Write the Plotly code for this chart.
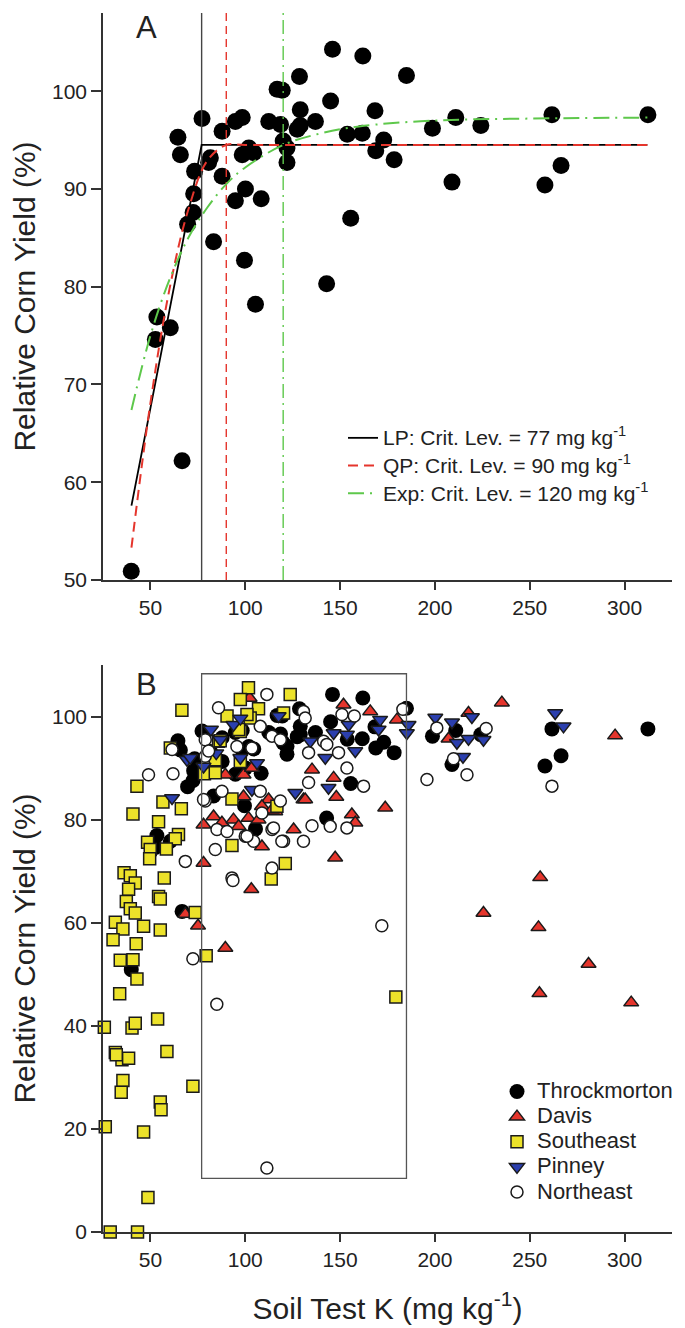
import plotly.graph_objects as go

# ---------------- Panel A data (Throckmorton) ----------------
thr_x = [146.0, 162.0, 185.0, 128.6, 116.8, 119.5, 145.0, 129.0, 168.4, 77.2,
         98.4, 94.8, 112.4, 118.6, 137.0, 129.0, 127.4, 87.8, 64.5, 153.8,
         161.7, 173.0, 120.0, 122.0, 65.8, 101.9, 98.4, 104.5, 168.8, 178.5,
         81.6, 80.7, 122.0, 73.3, 87.8, 100.1, 94.8, 108.4, 72.8, 72.5,
         69.6, 155.6, 83.3, 99.6, 142.9, 105.4, 53.4, 60.5, 52.6, 66.7,
         39.9, 211.0, 198.7, 224.2, 261.7, 312.3, 209.0, 266.5, 258.0]
thr_y = [104.3, 103.6, 101.6, 101.5, 100.2, 100.1, 99.0, 98.1, 98.0, 97.2,
         97.3, 96.9, 96.9, 96.6, 96.9, 96.5, 96.1, 95.9, 95.3, 95.6,
         95.7, 95.0, 94.9, 94.2, 93.5, 94.2, 93.5, 93.7, 93.9, 93.0,
         93.2, 92.7, 92.7, 91.8, 91.3, 90.0, 88.8, 89.0, 89.5, 87.6,
         86.4, 87.0, 84.6, 82.7, 80.3, 78.2, 76.9, 75.8, 74.6, 62.2,
         50.9, 97.3, 96.2, 96.5, 97.6, 97.6, 90.7, 92.4, 90.4]

# fitted model lines
lp_x = [40, 77, 312]
lp_y = [57.6, 94.5, 94.5]
qp_x = [40, 50, 60, 70, 80, 90, 100, 312]
qp_y = [53.3, 68.1, 79.7, 87.9, 92.9, 94.5, 94.5, 94.5]
exp_x = [40, 50, 60, 70, 80, 90, 100, 120, 140, 160, 200, 250, 312]
exp_y = [67.4, 75.0, 80.7, 85.0, 88.1, 90.5, 92.2, 94.5, 95.7, 96.4, 97.0, 97.2, 97.3]
crit_levels = [77, 90, 120]
model_names = ["LP: Crit. Lev. = 77 mg kg<sup>-1</sup>",
               "QP: Crit. Lev. = 90 mg kg<sup>-1</sup>",
               "Exp: Crit. Lev. = 120 mg kg<sup>-1</sup>"]

# ---------------- Panel B data ----------------
dav_x = [102.3, 89.5, 99.1, 103.5, 99.1, 112.3, 108.8, 130.7, 78.0, 83.3,
         87.7, 93.8, 96.5, 101.7, 115.8, 125.5, 78.0, 151.8, 165.9, 180.0,
         135.2, 146.6, 148.0, 131.6, 114.1, 173.8, 156.2, 158.0, 107.0, 108.8,
         147.4, 235.3, 217.7, 207.2, 295.0, 255.5, 225.6, 254.6, 281.0, 255.1,
         303.5, 103.2, 68.4, 75.1, 89.5]
dav_y = [103.6, 88.7, 88.7, 90.0, 84.5, 83.9, 82.6, 83.9, 79.0, 80.6,
         79.4, 80.0, 78.7, 80.3, 81.6, 78.1, 71.6, 102.3, 101.0, 99.4,
         89.7, 88.1, 84.4, 83.9, 81.9, 82.3, 81.0, 79.4, 80.0, 74.8,
         72.6, 102.7, 100.7, 95.7, 96.3, 68.8, 61.9, 59.1, 52.0, 46.3,
         44.5, 66.5, 61.7, 59.4, 55.1]

se_x = [101.7, 97.4, 123.7, 107.0, 66.6, 90.4, 102.6, 100.9, 60.5, 85.9,
        97.4, 78.5, 84.2, 97.4, 42.9, 56.6, 66.3, 93.0, 40.8, 54.3,
        64.8, 63.1, 48.5, 49.9, 49.6, 58.4, 93.0, 36.1, 39.4, 57.3,
        120.2, 96.5, 86.8, 84.2, 116.7, 121.1, 113.7, 42.0, 38.5, 54.3,
        55.2, 37.3, 39.4, 42.0, 73.6, 31.5, 35.5, 46.4, 55.2, 30.3,
        42.5, 34.1, 40.8, 42.9, 79.4, 33.8, 25.7, 40.3, 42.0, 53.8,
        58.7, 31.5, 35.0, 38.5, 32.0, 35.5, 34.6, 72.4, 55.2, 55.6,
        26.2, 46.4, 48.7, 28.8, 43.2, 179.4]
se_y = [105.6, 103.3, 104.3, 101.5, 101.2, 100.1, 99.7, 100.4, 93.9, 95.2,
        97.1, 88.9, 89.1, 91.3, 86.5, 83.4, 82.1, 84.0, 81.1, 79.6,
        77.1, 76.3, 75.6, 74.2, 72.4, 74.3, 75.0, 69.7, 69.1, 68.7,
        100.7, 97.5, 95.3, 91.6, 82.6, 71.5, 68.5, 67.7, 66.5, 65.1,
        64.6, 64.1, 62.7, 61.9, 62.0, 60.1, 58.8, 59.3, 58.6, 56.7,
        55.9, 52.7, 52.8, 49.1, 53.6, 46.2, 39.7, 39.6, 40.5, 41.3,
        35.0, 34.8, 33.4, 33.7, 34.4, 29.4, 27.1, 28.3, 25.2, 23.7,
        20.4, 19.4, 6.7, 0.0, 0.0, 45.6]

pin_x = [81.9, 86.8, 93.8, 97.4, 84.7, 69.3, 71.0, 97.4, 106.2, 78.0,
         117.6, 61.4, 103.5, 126.4, 134.3, 142.2, 146.6, 154.5, 153.6, 158.0,
         171.1, 170.3, 186.1, 185.2, 143.9, 200.2, 209.0, 219.5, 211.6, 217.7,
         225.6, 214.8, 263.4, 267.8]
pin_y = [97.5, 95.5, 98.4, 99.6, 92.9, 91.6, 92.0, 92.0, 91.0, 90.3,
         100.1, 84.2, 85.8, 85.2, 95.2, 92.0, 96.8, 98.4, 96.5, 93.3,
         99.4, 97.5, 98.4, 96.8, 86.2, 99.8, 98.9, 99.9, 94.9, 95.7,
         95.5, 92.2, 100.7, 98.1]

ne_x = [111.4, 85.9, 107.9, 114.1, 118.5, 78.9, 95.6, 103.5, 61.4, 78.9,
        80.7, 49.0, 61.9, 87.7, 78.9, 118.5, 108.8, 85.1, 90.4, 100.0,
        104.4, 114.1, 120.2, 130.7, 84.2, 68.4, 93.0, 114.1, 130.7, 131.6,
        151.0, 157.5, 183.1, 133.4, 141.3, 143.0, 149.2, 133.4, 153.6, 162.4,
        107.9, 78.0, 100.9, 114.9, 119.3, 135.2, 144.8, 153.6, 201.0, 227.0,
        209.8, 195.8, 216.9, 261.7, 93.5, 72.4, 85.0, 111.4, 172.0]
ne_y = [104.3, 101.7, 98.1, 96.2, 95.5, 95.5, 94.2, 93.9, 93.6, 92.3,
        93.3, 88.7, 88.9, 85.5, 83.6, 83.6, 81.3, 78.1, 77.7, 76.8,
        75.8, 78.1, 75.8, 75.8, 74.2, 71.9, 68.7, 70.6, 101.0, 99.7,
        100.4, 100.1, 101.4, 93.0, 95.2, 94.6, 93.0, 87.2, 90.0, 86.5,
        85.5, 83.9, 76.8, 78.4, 75.8, 78.8, 78.7, 78.4, 97.8, 97.7,
        91.8, 87.8, 88.7, 86.5, 68.2, 53.0, 44.2, 12.4, 59.4]

site_names = ["Throckmorton", "Davis", "Southeast", "Pinney", "Northeast"]

box_x = [77, 185]
box_y = [10.4, 108.3]

x_ticks = [50, 100, 150, 200, 250, 300]
ya_ticks = [50, 60, 70, 80, 90, 100]
yb_ticks = [0, 20, 40, 60, 80, 100]

FONT = "Liberation Sans, Arial, sans-serif"
TXT = "#222222"
AX = "#333333"
RED = "#e5352c"
GREEN = "#5ec84b"
YEL = "#ece22a"
BLUE = "#2b3fae"


def big(txt, px):
    return "<span style='font-size:%dpx'>%s</span>" % (px, txt)


fig = go.Figure()

# Panel A scatter
fig.add_trace(go.Scatter(x=thr_x, y=thr_y, mode="markers", xaxis="x", yaxis="y",
                         marker=dict(size=17, color="black"), showlegend=False,
                         cliponaxis=False))
# critical level vertical lines
crit_styles = [dict(color="#444444", width=1.4, dash="solid"),
               dict(color=RED, width=1.4, dash="8px,5px"),
               dict(color=GREEN, width=1.4, dash="14px,5px,2px,5px")]
for c, st in zip(crit_levels, crit_styles):
    fig.add_trace(go.Scatter(x=[c, c], y=[50, 108], mode="lines", xaxis="x", yaxis="y",
                             line=st, showlegend=False, hoverinfo="skip"))
# model lines
fig.add_trace(go.Scatter(x=lp_x, y=lp_y, mode="lines", name=big(model_names[0], 21),
                         line=dict(color="black", width=1.8), legend="legend"))
fig.add_trace(go.Scatter(x=qp_x, y=qp_y, mode="lines", name=big(model_names[1], 21),
                         line=dict(color=RED, width=2, dash="10px,6px", shape="spline"),
                         legend="legend"))
fig.add_trace(go.Scatter(x=exp_x, y=exp_y, mode="lines", name=big(model_names[2], 21),
                         line=dict(color=GREEN, width=2, dash="16px,6px,2px,6px", shape="spline"),
                         legend="legend"))

# Panel B scatter
mline = dict(color="#1a1a1a", width=1.5)
series_b = [
    (thr_x, thr_y, dict(size=15, color="black", symbol="circle")),
    (dav_x, dav_y, dict(size=13, color=RED, symbol="triangle-up", line=mline)),
    (se_x, se_y, dict(size=12, color=YEL, symbol="square", line=mline)),
    (pin_x, pin_y, dict(size=13, color=BLUE, symbol="triangle-down", line=mline)),
    (ne_x, ne_y, dict(size=12, color="white", symbol="circle", line=mline)),
]
for name, (sx, sy, mk) in zip(site_names, series_b):
    fig.add_trace(go.Scatter(x=sx, y=sy, mode="markers", xaxis="x2", yaxis="y2",
                             name=big(name, 22), legend="legend2", cliponaxis=False,
                             marker=mk))

fig.add_shape(type="rect", xref="x2", yref="y2", x0=box_x[0], x1=box_x[1],
              y0=box_y[0], y1=box_y[1], line=dict(color="#555555", width=1.3))

axis_common = dict(showgrid=False, zeroline=False, showline=True, linecolor=AX,
                   linewidth=1.5, ticks="outside", tickcolor=AX, tickwidth=1.5,
                   tickfont=dict(family=FONT, size=21, color=TXT))

# The page body keeps its default 8px margin (top/left), so the figure starts at
# page (8, 8) and is sized to reach the window's right and bottom edges.
OFF = 8
W, H = 685 - OFF, 1328 - OFF
ML = 103 - OFF
MT = 13 - OFF
MR = (OFF + W) - 672
MB = (OFF + H) - 1232
PW = W - ML - MR
PH = H - MT - MB
BOT = 1232  # page y of plot-area bottom


def py(page_y):
    return (BOT - page_y) / PH


def px(page_x):
    return (page_x - 103) / PW


fig.update_layout(
    width=W, height=H,
    margin=dict(l=ML, r=MR, t=MT, b=MB, autoexpand=False),
    paper_bgcolor="white", plot_bgcolor="white",
    font=dict(family=FONT, color=TXT),
    xaxis=dict(domain=[0, 1], anchor="y", range=[25, 325], tickvals=x_ticks,
               ticklen=8, **axis_common),
    yaxis=dict(domain=[py(580), 1], anchor="x", range=[50, 108], tickvals=ya_ticks,
               ticklen=10,
               title=dict(text="Relative Corn Yield (%)", font=dict(family=FONT, size=30, color=TXT),
                          standoff=20),
               **axis_common),
    xaxis2=dict(domain=[0, 1], anchor="y2", range=[25, 325], tickvals=x_ticks,
                ticklen=8,
                title=dict(text="Soil Test K (mg kg<sup>-1</sup>)", font=dict(family=FONT, size=30, color=TXT),
                           standoff=28),
                **axis_common),
    yaxis2=dict(domain=[0, py(665)], anchor="x2", range=[0, 110], tickvals=yb_ticks,
                ticklen=10,
                title=dict(text="Relative Corn Yield (%)", font=dict(family=FONT, size=30, color=TXT),
                           standoff=20),
                **axis_common),
    legend=dict(x=px(343), y=py(419), xanchor="left", yanchor="top",
                bgcolor="rgba(0,0,0,0)", font=dict(family=FONT, size=19, color=TXT),
                tracegroupgap=0),
    legend2=dict(x=px(497), y=py(1074), xanchor="left", yanchor="top",
                 bgcolor="rgba(0,0,0,0)", font=dict(family=FONT, size=17, color=TXT),
                 tracegroupgap=0),
    annotations=[
        dict(text="A", xref="paper", yref="paper", x=px(146), y=1.0, xanchor="center",
             yanchor="top", yshift=5,
             showarrow=False, font=dict(family=FONT, size=31, color=TXT)),
        dict(text="B", xref="paper", yref="paper", x=px(146), y=py(684), xanchor="center",
             yanchor="middle",
             showarrow=False, font=dict(family=FONT, size=31, color=TXT)),
    ],
)

fig.write_html("out.html")
